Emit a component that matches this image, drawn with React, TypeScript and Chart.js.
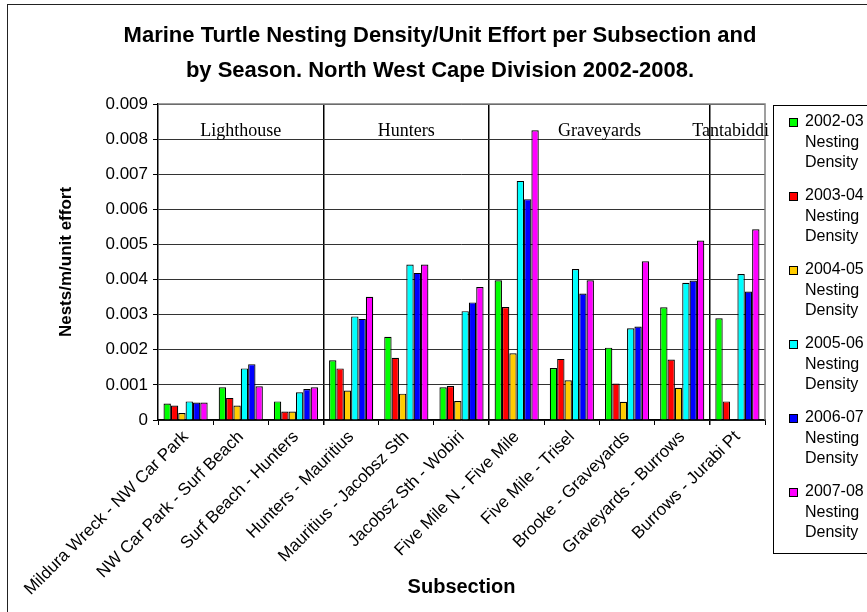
import React, { useEffect, useRef } from 'react';
import { Chart, registerables } from 'chart.js';

Chart.register(...registerables);

const categories = [
  'Mildura Wreck - NW Car Park',
  'NW Car Park - Surf Beach',
  'Surf Beach - Hunters',
  'Hunters - Mauritius',
  'Mauritius - Jacobsz Sth',
  'Jacobsz Sth - Wobiri',
  'Five Mile N - Five Mile',
  'Five Mile - Trisel',
  'Brooke - Graveyards',
  'Graveyards - Burrows',
  'Burrows - Jurabi Pt',
];

const seasons = ['2002-03', '2003-04', '2004-05', '2005-06', '2006-07', '2007-08'];
const seasonColors = ['#00FF00', '#FF0000', '#FFCC00', '#00FFFF', '#0000FF', '#FF00FF'];

const density2002 = [0.00047, 0.00093, 0.00053, 0.0017, 0.00237, 0.00093, 0.00398, 0.00148, 0.00206, 0.00321, 0.0029];
const density2003 = [0.00041, 0.00063, 0.00024, 0.00147, 0.00177, 0.00097, 0.00322, 0.00174, 0.00104, 0.00172, 0.00053];
const density2004 = [0.0002, 0.00041, 0.00024, 0.00084, 0.00075, 0.00054, 0.0019, 0.00113, 0.00052, 0.00092, null];
const density2005 = [0.00053, 0.00147, 0.00079, 0.00295, 0.00443, 0.0031, 0.00681, 0.0043, 0.00261, 0.00391, 0.00416];
const density2006 = [0.0005, 0.00159, 0.00088, 0.00288, 0.00419, 0.00335, 0.00629, 0.0036, 0.00266, 0.00397, 0.00366];
const density2007 = [0.0005, 0.00096, 0.00093, 0.00351, 0.00443, 0.00379, 0.00825, 0.00398, 0.00452, 0.00511, 0.00543];

const seriesValues = [density2002, density2003, density2004, density2005, density2006, density2007];

const groupNames = ['Lighthouse', 'Hunters', 'Graveyards', 'Tantabiddi'];
const groupFirst = [0, 3, 6, 10];
const groupLast = [2, 5, 9, 10];
const separatorIndices = [3, 6, 10];

const chartTitle = [
  'Marine Turtle Nesting Density/Unit Effort per Subsection and',
  'by Season. North West Cape Division 2002-2008.',
];
const yAxisTitle = 'Nests/m/unit effort';
const xAxisTitle = 'Subsection';
const yMin = 0;
const yMax = 0.009;
const yStep = 0.001;

const SANS = '"Liberation Sans", Arial, sans-serif';
const SERIF = '"Liberation Serif", "Times New Roman", serif';

const titlePlugin = {
  id: 'customTitle',
  afterDraw(chart: any) {
    const ctx = chart.ctx;
    ctx.save();
    ctx.font = `bold 22px ${SANS}`;
    ctx.fillStyle = '#000';
    ctx.textAlign = 'center';
    ctx.textBaseline = 'middle';
    chartTitle.forEach((line, i) => {
      ctx.fillText(line, 440, 36 + i * 35);
    });
    ctx.restore();
  },
};

const framePlugin = {
  id: 'plotFrame',
  beforeDatasetsDraw(chart: any) {
    const { ctx, chartArea } = chart;
    ctx.save();
    ctx.strokeStyle = '#808080';
    ctx.lineWidth = 1.5;
    ctx.beginPath();
    ctx.moveTo(chartArea.left, chartArea.top);
    ctx.lineTo(chartArea.right, chartArea.top);
    ctx.lineTo(chartArea.right, chartArea.bottom);
    ctx.stroke();
    ctx.restore();
  },
};

const groupLabelPlugin = {
  id: 'groupLabels',
  afterDatasetsDraw(chart: any) {
    const { ctx, chartArea } = chart;
    const xs = chart.scales.x;
    const ys = chart.scales.y;
    ctx.save();
    ctx.font = `18px ${SERIF}`;
    ctx.fillStyle = '#000';
    ctx.textAlign = 'center';
    ctx.textBaseline = 'alphabetic';
    const baseY = ys.getPixelForValue(yMax - yStep) - 3;
    groupNames.forEach((name, i) => {
      let cx = (xs.getPixelForValue(groupFirst[i]) + xs.getPixelForValue(groupLast[i])) / 2;
      const w = ctx.measureText(name).width;
      cx = Math.min(cx, chartArea.right + 4 - w / 2);
      ctx.fillText(name, cx, baseY);
    });
    ctx.restore();
  },
};

const legendPlugin = {
  id: 'customLegend',
  afterDraw(chart: any) {
    const { ctx, chartArea } = chart;
    const left = chartArea.right + 8;
    const top = chartArea.top + 1;
    ctx.save();
    ctx.fillStyle = '#fff';
    ctx.fillRect(left, top, 200, 448);
    ctx.strokeStyle = '#000';
    ctx.lineWidth = 1;
    ctx.strokeRect(left + 0.5, top + 0.5, 200, 448);
    ctx.font = `16px ${SANS}`;
    ctx.textAlign = 'left';
    ctx.textBaseline = 'middle';
    seasons.forEach((season, i) => {
      const y0 = top + 17 + i * 74;
      ctx.fillStyle = seasonColors[i];
      ctx.fillRect(left + 16, y0 - 4, 8, 8);
      ctx.strokeStyle = '#000';
      ctx.strokeRect(left + 16.5, y0 - 3.5, 8, 8);
      ctx.fillStyle = '#000';
      [season, 'Nesting', 'Density'].forEach((t, j) => {
        ctx.fillText(t, left + 32, y0 + j * 20.5);
      });
    });
    ctx.restore();
  },
};

export default function App() {
  const canvasRef = useRef<HTMLCanvasElement | null>(null);

  useEffect(() => {
    if (!canvasRef.current) return;
    const chart = new Chart(canvasRef.current, {
      type: 'bar',
      data: {
        labels: categories,
        datasets: seasons.map((s, i) => ({
          label: `${s} Nesting Density`,
          data: seriesValues[i],
          backgroundColor: seasonColors[i],
          borderColor: '#000',
          borderWidth: 1.2,
          categoryPercentage: 0.8,
          barPercentage: 1,
        })),
      },
      options: {
        animation: false,
        responsive: false,
        maintainAspectRatio: false,
        layout: { padding: { left: 50, right: 102, top: 104, bottom: 8 } },
        plugins: {
          legend: { display: false },
          title: { display: false },
          tooltip: { enabled: false },
        },
        scales: {
          x: {
            grid: {
              offset: true,
              color: (c: any) => (separatorIndices.includes(c.index) ? '#000' : 'rgba(0,0,0,0)'),
              lineWidth: (c: any) => (separatorIndices.includes(c.index) ? 1.5 : 1),
              tickColor: '#000',
              tickLength: 5,
              drawOnChartArea: true,
            },
            border: { color: '#000', width: 1.5 },
            ticks: {
              minRotation: 45,
              maxRotation: 45,
              autoSkip: false,
              color: '#000',
              padding: 2,
              font: { family: SANS, size: 17 },
            },
            title: {
              display: true,
              text: xAxisTitle,
              color: '#000',
              font: { family: SANS, size: 20, weight: 'bold' },
              padding: { top: 0, bottom: 5 },
            },
            afterFit: (s: any) => {
              s.height = 184;
            },
          },
          y: {
            min: yMin,
            max: yMax,
            grid: { color: '#333', tickColor: '#000', tickLength: 5 },
            border: { color: '#000', width: 1.5 },
            ticks: {
              stepSize: yStep,
              color: '#000',
              padding: 5,
              font: { family: SANS, size: 17 },
              callback: (v: any) => (Number(v) === 0 ? '0' : Number(v).toFixed(3)),
            },
            title: {
              display: true,
              text: yAxisTitle,
              color: '#000',
              font: { family: SANS, size: 17, weight: 'bold' },
              padding: { top: 6, bottom: 0 },
            },
            afterFit: (s: any) => {
              s.width = 108;
            },
          },
        },
      },
      plugins: [framePlugin, groupLabelPlugin, legendPlugin, titlePlugin],
    } as any);
    return () => chart.destroy();
  }, []);

  return (
    <div
      style={{
        position: 'fixed',
        left: 0,
        top: 0,
        width: 867,
        height: 612,
        overflow: 'hidden',
        background: '#fff',
      }}
    >
      <div
        style={{
          position: 'absolute',
          left: 7,
          top: 4,
          width: 870,
          height: 700,
          border: '1.5px solid #222',
          boxSizing: 'border-box',
        }}
      />
      <canvas
        ref={canvasRef}
        width={867}
        height={612}
        style={{ position: 'absolute', left: 0, top: 0, width: 867, height: 612 }}
      />
    </div>
  );
}
